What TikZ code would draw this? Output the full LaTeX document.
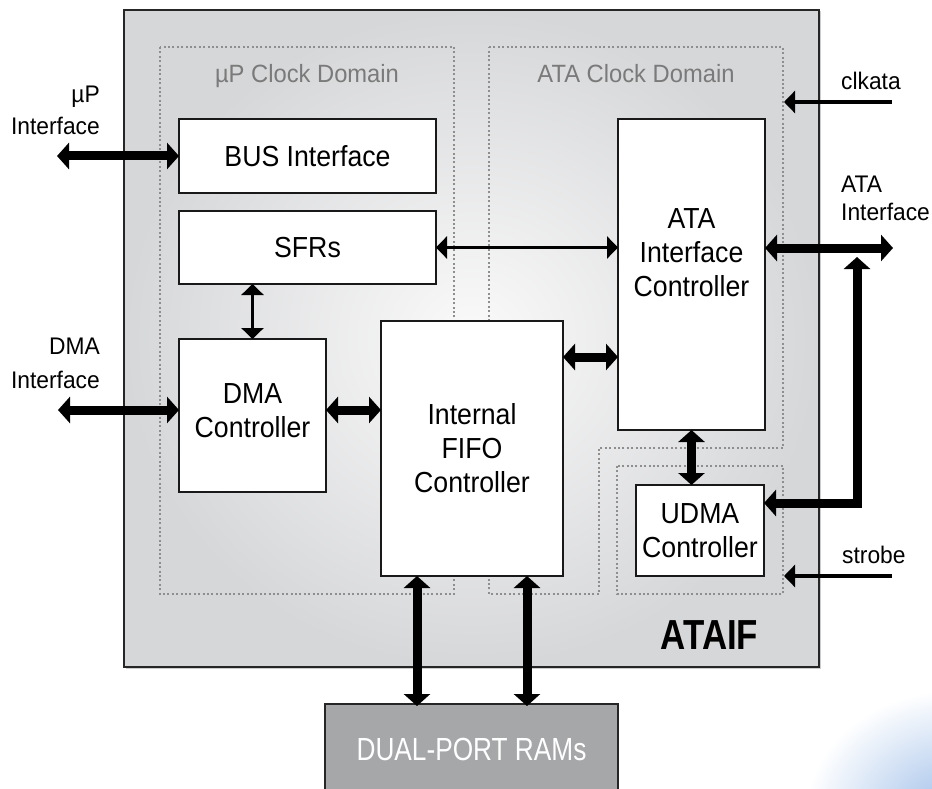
\documentclass[tikz,border=0pt]{standalone}
\usepackage{fontspec}
\setmainfont{Liberation Sans}
\newfontfamily\boxfont[FakeStretch=0.92]{Liberation Sans}
\newfontfamily\lblfont[FakeStretch=0.95]{Liberation Sans}
\newfontfamily\ramfont[FakeStretch=0.82]{Liberation Sans}
\newfontfamily\titlefont[FakeStretch=0.83]{Liberation Sans Bold}
\usetikzlibrary{arrows.meta}
\definecolor{domgray}{HTML}{8E8E8E}
\definecolor{lblgray}{HTML}{7A7A7A}
\definecolor{ramgray}{HTML}{A6A7A9}
\definecolor{bgin}{HTML}{FAFAFA}
\definecolor{bgout}{HTML}{D6D7D9}
\definecolor{swoosh}{HTML}{9DBDE8}
\begin{document}
\begin{tikzpicture}[x=1pt,y=-1pt,
  blk/.style={draw=black!90, line width=2pt, fill=white, inner sep=0pt, outer sep=0pt,
    align=center, font=\boxfont\fontsize{29}{34}\selectfont},
  boxtxt/.style={inner sep=0pt, align=center, font=\boxfont\fontsize{29}{34}\selectfont},
  lbl/.style={inner sep=0pt, font=\lblfont\fontsize{24}{30}\selectfont},
  domtxt/.style={inner sep=0pt, text=lblgray, font=\lblfont\fontsize{25}{30}\selectfont},
  domline/.style={draw=domgray, line width=2pt, dash pattern=on 2pt off 2.4pt},
  fatarrow/.style={line width=9pt, line join=miter,
    arrows={Triangle[length=12pt,width=26pt]-Triangle[length=12pt,width=26pt]}},
  slimboth/.style={line width=3.5pt,
    arrows={Triangle[length=11pt,width=22pt]-Triangle[length=11pt,width=22pt]}},
  slimone/.style={line width=3.5pt, arrows={-Triangle[length=11pt,width=22pt]}}
]
\useasboundingbox (0,0) rectangle (932,789);

% decorative corner swoosh
\shade[inner color=swoosh, outer color=white] (955,815) ellipse [x radius=150pt, y radius=125pt];

% outer ATAIF block
\fill[black!20] (125.5,11.5) rectangle (820.5,668.5);
\node[draw=black!85, line width=2.2pt, shading=radial, inner color=bgin, outer color=bgout,
  minimum width=695pt, minimum height=657pt, inner sep=0pt, outer sep=0pt] (outer) at (471.5,338.5) {};

% clock domains
\draw[domline] (160,47) rectangle (454,594);
\draw[domline] (489,47) -- (783,47) -- (783,448) -- (599,448) -- (599,594) -- (489,594) -- cycle;
\draw[domline] (617,466) rectangle (783,594);
\node[domtxt, anchor=base] (updom) at (307,83) {µP Clock Domain};
\node[domtxt, anchor=base] (atadom) at (636,83) {ATA Clock Domain};

% blocks
\node[blk, minimum width=257pt, minimum height=74pt] (bus) at (307.5,156) {BUS Interface};
\node[blk, minimum width=257pt, minimum height=73pt] (sfr) at (307.5,247.5) {SFRs};
\node[blk, minimum width=147pt, minimum height=153pt] (dma) at (252.5,415.5) {};
\node[boxtxt] (dmatxt) at (252.5,410.5) {DMA\\Controller};
\node[blk, minimum width=182pt, minimum height=255pt] (fifo) at (472,448.5) {Internal\\FIFO\\Controller};
\node[blk, minimum width=147pt, minimum height=311pt] (ata) at (691.5,274.5) {};
\node[boxtxt] (atatxt) at (691.5,253) {ATA\\Interface\\Controller};
\node[blk, minimum width=128pt, minimum height=91pt] (udma) at (700,530.5) {UDMA\\Controller};
\node[draw=black!85, line width=2pt, fill=ramgray, text=white, inner sep=0pt,
  minimum width=293pt, minimum height=91pt, font=\ramfont\fontsize{32}{36}\selectfont]
  (ram) at (471.5,749.5) {DUAL-PORT RAMs};

\node[inner sep=0pt, font=\titlefont\fontsize{42}{44}\selectfont, anchor=base] (title) at (709.5,649) {ATAIF};

% external labels
\node[lbl, anchor=east, align=right, font=\lblfont\fontsize{24}{32}\selectfont] (uplbl) at (100,110) {µP\\Interface};
\node[lbl, anchor=east, align=right, font=\lblfont\fontsize{24}{34}\selectfont] (dmalbl) at (100,363.5) {DMA\\Interface};
\node[lbl, anchor=west, align=left, font=\lblfont\fontsize{24}{28}\selectfont] (atalbl) at (841,198.5) {ATA\\Interface};
\node[lbl, anchor=base west] (clklbl) at (841,90) {clkata};
\node[lbl, anchor=base west] (stblbl) at (842,563) {strobe};

% coordinates for free ends
\coordinate (upif) at (57,156);
\coordinate (dmaif) at (58,410);
\coordinate (ataif) at (893,248);
\coordinate (corner) at (857,503);
\coordinate (uptip) at (857,257);
\coordinate (clk) at (892,102);
\coordinate (clkend) at (784,102);
\coordinate (stb) at (892,576);
\coordinate (stbend) at (784,576);
\coordinate (fa) at (0,357);
\coordinate (p1) at (417,0);
\coordinate (p2) at (527,0);

% connectors
\draw[fatarrow] (upif) -- (upif -| bus.west);
\draw[fatarrow] (dmaif) -- (dmaif -| dma.west);
\draw[fatarrow] (dmaif -| dma.east) -- (dmaif -| fifo.west);
\draw[slimboth] (sfr.east) -- (sfr.east -| ata.west);
\draw[slimboth] (dma.north |- sfr.south) -- (dma.north);
\draw[fatarrow] (fa -| fifo.east) -- (fa -| ata.west);
\draw[fatarrow] (ata.south) -- (ata.south |- udma.north);
\draw[fatarrow] (ataif -| ata.east) -- (ataif);
\draw[fatarrow] (corner -| udma.east) -- (corner) -- (uptip);
\draw[fatarrow] (p1 |- fifo.south) -- ([yshift=-3pt]p1 |- ram.north);
\draw[fatarrow] (p2 |- fifo.south) -- ([yshift=-3pt]p2 |- ram.north);
\draw[slimone] (clk) -- (clkend);
\draw[slimone] (stb) -- (stbend);
\end{tikzpicture}
\end{document}
